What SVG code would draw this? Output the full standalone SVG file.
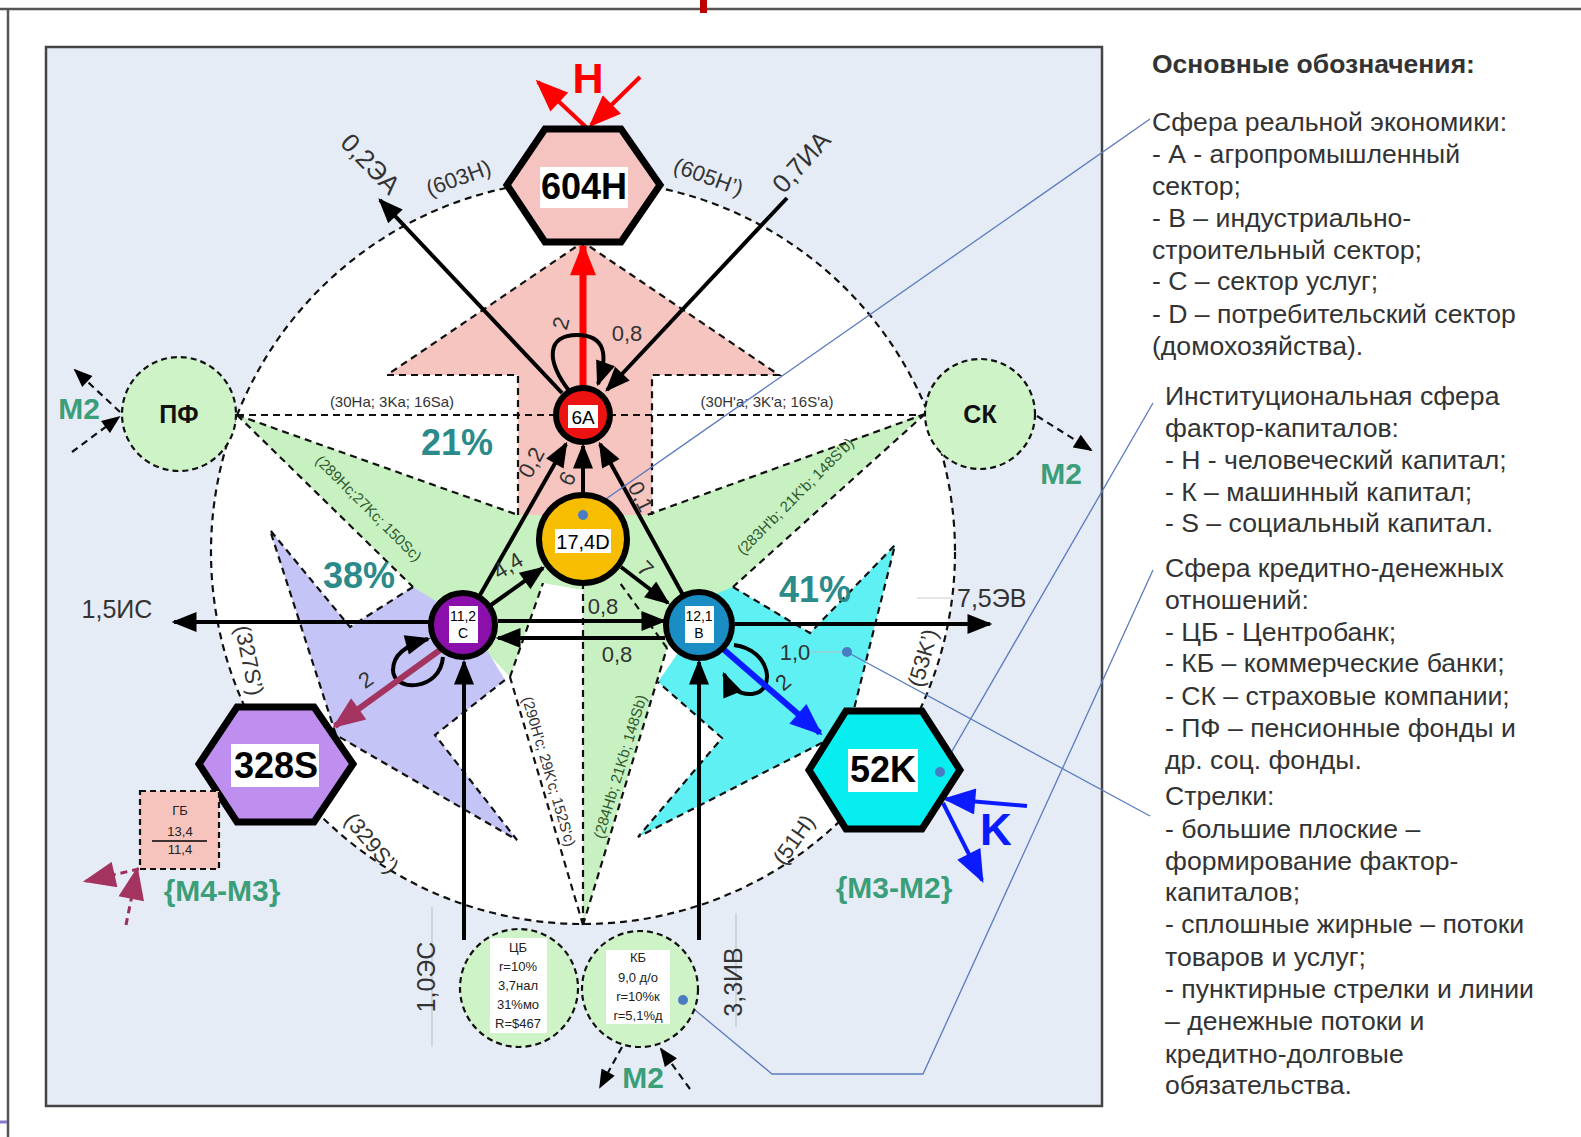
<svg xmlns="http://www.w3.org/2000/svg" width="1581" height="1137" viewBox="0 0 1581 1137">
<defs>
<style>
text{font-family:"Liberation Sans",Arial,sans-serif}
.dash{fill:none;stroke:#111;stroke-width:2.2;stroke-dasharray:7 5}
.sol{fill:none;stroke:#000;stroke-width:4}
.lbl{font-size:22px;fill:#333}
.rl{font-size:22px;fill:#333}
.sm{font-size:15px;fill:#333}
.gl{font-size:15px;fill:#2f5a2f}
.pct{font-size:36px;font-weight:bold;fill:#2b8a8a}
.m2{font-size:30px;font-weight:bold;fill:#3a9e78}
.leg{font-size:26.6px;fill:#333}
.hex{stroke:#000;stroke-width:7}
.hext{font-size:36px;font-weight:bold;fill:#000}
.call{fill:none;stroke:#5a7bbf;stroke-width:1.3}
.dot{fill:#4a7cc4}
.nd{stroke:#000;stroke-width:6}
.fin{fill:#cdf3c6;stroke:#111;stroke-width:2.2;stroke-dasharray:6 4}
</style>
<marker id="ah" viewBox="0 0 10 8" refX="9" refY="4" markerWidth="26" markerHeight="20" markerUnits="userSpaceOnUse" orient="auto"><path d="M0,0 L10,4 L0,8 z" fill="#000"/></marker>
<marker id="ahs" viewBox="0 0 10 8" refX="9" refY="4" markerWidth="20" markerHeight="15" markerUnits="userSpaceOnUse" orient="auto"><path d="M0,0 L10,4 L0,8 z" fill="#000"/></marker>
<marker id="ahr" viewBox="0 0 10 8" refX="9" refY="4" markerWidth="34" markerHeight="26" markerUnits="userSpaceOnUse" orient="auto"><path d="M0,0 L10,4 L0,8 z" fill="#f00"/></marker>
<marker id="ahb" viewBox="0 0 10 8" refX="9" refY="4" markerWidth="34" markerHeight="26" markerUnits="userSpaceOnUse" orient="auto"><path d="M0,0 L10,4 L0,8 z" fill="#0a1cff"/></marker>
<marker id="ahm" viewBox="0 0 10 8" refX="9" refY="4" markerWidth="34" markerHeight="26" markerUnits="userSpaceOnUse" orient="auto"><path d="M0,0 L10,4 L0,8 z" fill="#a3345f"/></marker>
</defs>

<rect width="1581" height="1137" fill="#fff"/>
<line x1="0" y1="9" x2="1581" y2="9" stroke="#555" stroke-width="2.5"/>
<line x1="8" y1="9" x2="8" y2="1137" stroke="#555" stroke-width="2.5"/>
<rect x="700" y="0" width="7" height="13" fill="#c00000"/>
<line x1="0" y1="1122" x2="7" y2="1122" stroke="#8a78c8" stroke-width="3"/>

<rect x="46" y="47" width="1056" height="1059" fill="#e6ecf6" stroke="#444" stroke-width="2.5"/>

<g id="ring">
<circle cx="583" cy="552" r="372" fill="#fff" stroke="#111" stroke-width="2.2" stroke-dasharray="7 5"/>
</g>

<g id="flat-arrows">
<polygon points="583,242 387,375 518,375 518,530 652,530 652,375 779,375" fill="#f7c5c0"/>
<polygon points="237,415 518,515 647,515 925,413 733,587 700,612 667,648 583,925 583,590 543,583 510,677 475,640 413,587" fill="#c8f1c2"/>
<polygon points="270,530 350,627 413,587 470,622 505,680 435,735 517,840 336,735" fill="#c4c4f6"/>
<polygon points="700,600 733,587 810,633 895,545 849,729 638,837 722,738 658,682 680,650" fill="#5ef0f2"/>
<polyline class="dash" points="518,515 518,375 387,375 583,242 779,375 652,375 652,515"/>
<polyline class="dash" points="413,587 350,627 270,530 336,735 517,840 435,735 505,680"/>
<polyline class="dash" points="733,587 810,633 895,545 849,729 638,837 722,738 658,682"/>
</g>

<g id="connectors">
<line class="dash" x1="237" y1="415" x2="925" y2="415"/>
<line class="dash" x1="237" y1="415" x2="518" y2="515"/>
<line class="dash" x1="237" y1="415" x2="413" y2="587"/>
<line class="dash" x1="925" y1="414" x2="647" y2="515"/>
<line class="dash" x1="925" y1="414" x2="733" y2="587"/>
<line class="dash" x1="583" y1="925" x2="583" y2="585"/>
<line class="dash" x1="583" y1="925" x2="667" y2="648"/>
<line class="dash" x1="667" y1="648" x2="620" y2="583"/>
<line class="dash" x1="583" y1="925" x2="510" y2="677"/>
<line class="dash" x1="510" y1="677" x2="543" y2="583"/>

<text class="sm" x="392" y="407" text-anchor="middle">(30Ha; 3Ka; 16Sa)</text>
<text class="sm" x="767" y="407" text-anchor="middle">(30H'a; 3K'a; 16S'a)</text>
<text class="gl" transform="translate(365,512) rotate(45)" text-anchor="middle">(289Hc;27Kc; 150Sc)</text>
<text class="gl" transform="translate(799,500) rotate(-45)" text-anchor="middle">(283H'b; 21K'b; 148S'b)</text>
<text class="gl" transform="translate(625,768) rotate(-73)" text-anchor="middle">(284Hb; 21Kb; 148Sb)</text>
<text class="sm" transform="translate(544,773) rotate(73.6)" text-anchor="middle" fill="#222">(290H'c; 29K'c; 152S'c)</text>

<text class="rl" transform="translate(461,185) rotate(-20)" text-anchor="middle">(603H)</text>
<text class="rl" transform="translate(706,184) rotate(20)" text-anchor="middle">(605H’)</text>
<text class="rl" transform="translate(242,662) rotate(78)" text-anchor="middle">(327S’)</text>
<text class="rl" transform="translate(366,848) rotate(50)" text-anchor="middle">(329S’)</text>
<text class="rl" transform="translate(800,844) rotate(-55)" text-anchor="middle">(51H)</text>
<text class="rl" transform="translate(930,660) rotate(-74)" text-anchor="middle">(53K’)</text>

<text class="pct" x="457" y="455" text-anchor="middle">21%</text>
<text class="pct" x="359" y="588" text-anchor="middle">38%</text>
<text class="pct" x="815" y="602" text-anchor="middle">41%</text>

<line class="sol" x1="562" y1="393" x2="380" y2="200" marker-end="url(#ah)"/>
<line class="sol" x1="787" y1="198" x2="607" y2="390" marker-end="url(#ah)"/>
<text class="lbl" transform="translate(364,170) rotate(46)" text-anchor="middle" style="font-size:26px">0,2ЭА</text>
<text class="lbl" transform="translate(808,168) rotate(-48)" text-anchor="middle" style="font-size:26px">0,7ИА</text>

<line x1="583" y1="388" x2="583" y2="246" stroke="#f00" stroke-width="7" marker-end="url(#ahr)"/>
<path class="sol" d="M570,392 C545,360 547,335 577,335 C606,335 608,356 598,384" marker-end="url(#ah)"/>
<text class="lbl" transform="translate(568,325) rotate(-75)" text-anchor="middle">2</text>
<text class="lbl" x="627" y="341" text-anchor="middle">0,8</text>

<line class="sol" x1="480" y1="595" x2="566" y2="444" marker-end="url(#ah)"/>
<line class="sol" x1="683" y1="595" x2="600" y2="444" marker-end="url(#ah)"/>
<line class="sol" x1="583" y1="492" x2="583" y2="446" marker-end="url(#ah)"/>
<text class="lbl" transform="translate(538,466) rotate(-62)" text-anchor="middle">0,2</text>
<text class="lbl" transform="translate(574,482) rotate(-62)" text-anchor="middle">6</text>
<text class="lbl" transform="translate(634,500) rotate(64)" text-anchor="middle">0,1</text>

<line class="sol" x1="491" y1="605" x2="543" y2="568" marker-end="url(#ah)"/>
<line class="sol" x1="621" y1="567" x2="668" y2="603" marker-end="url(#ah)"/>
<text class="lbl" transform="translate(512,572) rotate(-32)" text-anchor="middle">4,4</text>
<text class="lbl" transform="translate(640,574) rotate(45)" text-anchor="middle">7</text>

<line class="sol" x1="498" y1="621" x2="664" y2="621" marker-end="url(#ah)"/>
<line class="sol" x1="665" y1="638" x2="498" y2="638" marker-end="url(#ah)"/>
<text class="lbl" x="603" y="614" text-anchor="middle">0,8</text>
<text class="lbl" x="617" y="662" text-anchor="middle">0,8</text>

<line class="sol" x1="430" y1="622" x2="174" y2="622" marker-end="url(#ah)"/>
<line class="sol" x1="735" y1="624" x2="990" y2="624" marker-end="url(#ah)"/>
<text class="lbl" x="117" y="618" text-anchor="middle" style="font-size:25px">1,5ИС</text>
<text class="lbl" x="957" y="607" style="font-size:25px">7,5ЭВ</text>
<line x1="917" y1="598" x2="952" y2="598" stroke="#ccc" stroke-width="1"/>

<line class="sol" x1="464" y1="940" x2="464" y2="662" marker-end="url(#ah)"/>
<line class="sol" x1="699" y1="940" x2="699" y2="662" marker-end="url(#ah)"/>
<line x1="432" y1="907" x2="432" y2="1047" stroke="#bbb" stroke-width="1"/>
<line x1="736" y1="913" x2="736" y2="1027" stroke="#bbb" stroke-width="1"/>
<text class="lbl" transform="translate(435,977) rotate(-90)" text-anchor="middle" style="font-size:25px">1,0ЭС</text>
<text class="lbl" transform="translate(742,982) rotate(-90)" text-anchor="middle" style="font-size:25px">3,3ИВ</text>

<path class="sol" d="M443,657 C440,692 393,692 393,670 C393,655 406,645 428,639" marker-end="url(#ah)"/>
<line x1="440" y1="650" x2="335" y2="726" stroke="#a3345f" stroke-width="6" marker-end="url(#ahm)"/>
<text class="lbl" transform="translate(370,686) rotate(-35)" text-anchor="middle" fill="#2b3a6b">2</text>

<path class="sol" d="M734,645 C772,650 776,692 752,694 C738,695 729,686 724,674" marker-end="url(#ah)"/>
<line x1="722" y1="648" x2="820" y2="733" stroke="#0a1cff" stroke-width="6" marker-end="url(#ahb)"/>
<text class="lbl" x="795" y="660" text-anchor="middle">1,0</text>
<text class="lbl" transform="translate(788,688) rotate(-40)" text-anchor="middle">2</text>

<line x1="587" y1="128" x2="538" y2="82" stroke="#f00" stroke-width="4" marker-end="url(#ahr)"/>
<line x1="640" y1="77" x2="591" y2="125" stroke="#f00" stroke-width="4" marker-end="url(#ahr)"/>
<text x="588" y="93" text-anchor="middle" font-size="43" font-weight="bold" fill="#f00">H</text>

<line x1="1027" y1="806" x2="946" y2="799" stroke="#0a1cff" stroke-width="4" marker-end="url(#ahb)"/>
<line x1="943" y1="803" x2="982" y2="880" stroke="#0a1cff" stroke-width="4" marker-end="url(#ahb)"/>
<text x="996" y="845" text-anchor="middle" font-size="44" font-weight="bold" fill="#0a1cff">K</text>

<line class="dash" x1="120" y1="412" x2="75" y2="370" marker-end="url(#ahs)"/>
<line class="dash" x1="72" y1="452" x2="119" y2="417" marker-end="url(#ahs)"/>
<line class="dash" x1="987" y1="367" x2="1034" y2="409" marker-end="url(#ahs)"/>
<line class="dash" x1="1037" y1="416" x2="1091" y2="450" marker-end="url(#ahs)"/>
<line class="dash" x1="622" y1="1047" x2="600" y2="1087" marker-end="url(#ahs)"/>
<line class="dash" x1="690" y1="1089" x2="661" y2="1049" marker-end="url(#ahs)"/>

<line x1="139" y1="869" x2="86" y2="881" stroke="#9c2f5f" stroke-width="3" stroke-dasharray="7 5" marker-end="url(#ahm)"/>
<line x1="126" y1="925" x2="137" y2="870" stroke="#9c2f5f" stroke-width="3" stroke-dasharray="7 5" marker-end="url(#ahm)"/>

<text class="m2" x="79" y="419" text-anchor="middle">M2</text>
<text class="m2" x="1061" y="484" text-anchor="middle">M2</text>
<text class="m2" x="643" y="1088" text-anchor="middle">M2</text>
<text class="m2" x="222" y="901" text-anchor="middle">{M4-M3}</text>
<text class="m2" x="894" y="898" text-anchor="middle">{M3-M2}</text>

<polyline class="call" points="583,515 1150,119"/>
<polyline class="call" points="940,772 1153,403"/>
<polyline class="call" points="683,1000 772,1074 923,1074 1153,570"/>
<polyline class="call" points="847,652 1150,816"/>
<line x1="812" y1="652" x2="842" y2="652" stroke="#bbc" stroke-width="1"/>
</g>

<g id="node-604H">
<polygon class="hex" points="507,185 545,129 621,129 660,185 621,242 545,242" fill="#f6c4c0"/>
<rect x="540" y="167" width="88" height="41" fill="#fff"/>
<text class="hext" x="584" y="199" text-anchor="middle">604H</text>
</g>
<g id="node-328S">
<polygon class="hex" points="199,764 237,707 314,707 353,764 314,822 237,822" fill="#bf8ff0"/>
<rect x="231" y="744" width="88" height="43" fill="#fff"/>
<text class="hext" x="276" y="778" text-anchor="middle">328S</text>
</g>
<g id="node-52K">
<polygon class="hex" points="809,770 846,711 922,711 960,770 922,829 846,829" fill="#06eef0"/>
<rect x="848" y="749" width="70" height="43" fill="#fff"/>
<text class="hext" x="883" y="782" text-anchor="middle">52K</text>
</g>

<g id="node-6A">
<circle class="nd" cx="583" cy="415" r="27" fill="#ec1212"/>
<rect x="568" y="405" width="30" height="23" fill="#fff"/>
<text x="583" y="424" text-anchor="middle" font-size="19" fill="#000">6A</text>
</g>
<g id="node-D">
<circle class="nd" cx="583" cy="539" r="44" fill="#f7bd00"/>
<rect x="555" y="529" width="56" height="24" fill="#fff"/>
<text x="583" y="549" text-anchor="middle" font-size="20" fill="#000">17,4D</text>
</g>
<g id="node-C">
<circle class="nd" cx="463" cy="625" r="32" fill="#8b0fab"/>
<rect x="449" y="606" width="29" height="37" fill="#fff"/>
<text x="463" y="621" text-anchor="middle" font-size="14" fill="#000">11,2</text>
<text x="463" y="638" text-anchor="middle" font-size="14" fill="#000">C</text>
</g>
<g id="node-B">
<circle class="nd" cx="699" cy="625" r="33" fill="#1a8ec4"/>
<rect x="685" y="606" width="29" height="37" fill="#fff"/>
<text x="699" y="621" text-anchor="middle" font-size="14" fill="#000">12,1</text>
<text x="699" y="638" text-anchor="middle" font-size="14" fill="#000">B</text>
</g>
<g id="node-PF">
<circle class="fin" cx="179" cy="414" r="57"/>
<text x="179" y="423" text-anchor="middle" font-size="25" font-weight="bold" fill="#111">ПФ</text>
</g>
<g id="node-SK">
<circle class="fin" cx="980" cy="414" r="55"/>
<text x="980" y="423" text-anchor="middle" font-size="25" font-weight="bold" fill="#111">СК</text>
</g>
<g id="node-CB">
<circle class="fin" cx="519" cy="988" r="59"/>
<rect x="490" y="938" width="57" height="95" fill="#fff"/>
<g font-size="13" fill="#222" text-anchor="middle">
<text x="518" y="952">ЦБ</text>
<text x="518" y="971">r=10%</text>
<text x="518" y="990">3,7нал</text>
<text x="518" y="1009">31%мо</text>
<text x="518" y="1028">R=$467</text>
</g>
</g>
<g id="node-KB">
<circle class="fin" cx="640" cy="989" r="58"/>
<rect x="606" y="950" width="64" height="74" fill="#fff"/>
<g font-size="13" fill="#222" text-anchor="middle">
<text x="638" y="962">КБ</text>
<text x="638" y="982">9,0 д/о</text>
<text x="638" y="1001">r=10%к</text>
<text x="638" y="1020">r=5,1%д</text>
</g>
</g>
<g id="node-GB">
<rect x="140" y="791" width="79" height="78" fill="#f6c4bc" stroke="#111" stroke-width="2.2" stroke-dasharray="6 4"/>
<g font-size="13" fill="#222" text-anchor="middle">
<text x="180" y="815">ГБ</text>
<text x="180" y="836">13,4</text>
<line x1="152" y1="841" x2="207" y2="841" stroke="#000" stroke-width="1.5"/>
<text x="180" y="854">11,4</text>
</g>
</g>

<g id="dots">
<circle class="dot" cx="583" cy="515" r="5"/>
<circle class="dot" cx="940" cy="772" r="5"/>
<circle class="dot" cx="683" cy="1000" r="5"/>
<circle class="dot" cx="847" cy="652" r="5"/>
</g>

<g id="legend" class="leg">
<text x="1152" y="73" font-weight="bold" style="font-size:26.5px">Основные обозначения:</text>
<text x="1152" y="131">Сфера реальной экономики:</text>
<text x="1152" y="163">- А - агропромышленный</text>
<text x="1152" y="195">сектор;</text>
<text x="1152" y="227">- В – индустриально-</text>
<text x="1152" y="259">строительный сектор;</text>
<text x="1152" y="290">- С – сектор услуг;</text>
<text x="1152" y="323">- D – потребительский сектор</text>
<text x="1152" y="355">(домохозяйства).</text>
<text x="1165" y="405">Институциональная сфера</text>
<text x="1165" y="437">фактор-капиталов:</text>
<text x="1165" y="469">- Н - человеческий капитал;</text>
<text x="1165" y="501">- К – машинный капитал;</text>
<text x="1165" y="532">- S – социальный капитал.</text>
<text x="1165" y="577">Сфера кредитно-денежных</text>
<text x="1165" y="609">отношений:</text>
<text x="1165" y="641">- ЦБ - Центробанк;</text>
<text x="1165" y="672">- КБ – коммерческие банки;</text>
<text x="1165" y="705">- СК – страховые компании;</text>
<text x="1165" y="737">- ПФ – пенсионные фонды и</text>
<text x="1165" y="769">др. соц. фонды.</text>
<text x="1165" y="805">Стрелки:</text>
<text x="1165" y="838">- большие плоские –</text>
<text x="1165" y="870">формирование фактор-</text>
<text x="1165" y="901">капиталов;</text>
<text x="1165" y="933">- сплошные жирные – потоки</text>
<text x="1165" y="966">товаров и услуг;</text>
<text x="1165" y="998">- пунктирные стрелки и линии</text>
<text x="1165" y="1030">– денежные потоки и</text>
<text x="1165" y="1063">кредитно-долговые</text>
<text x="1165" y="1094">обязательства.</text>
</g>
</svg>
